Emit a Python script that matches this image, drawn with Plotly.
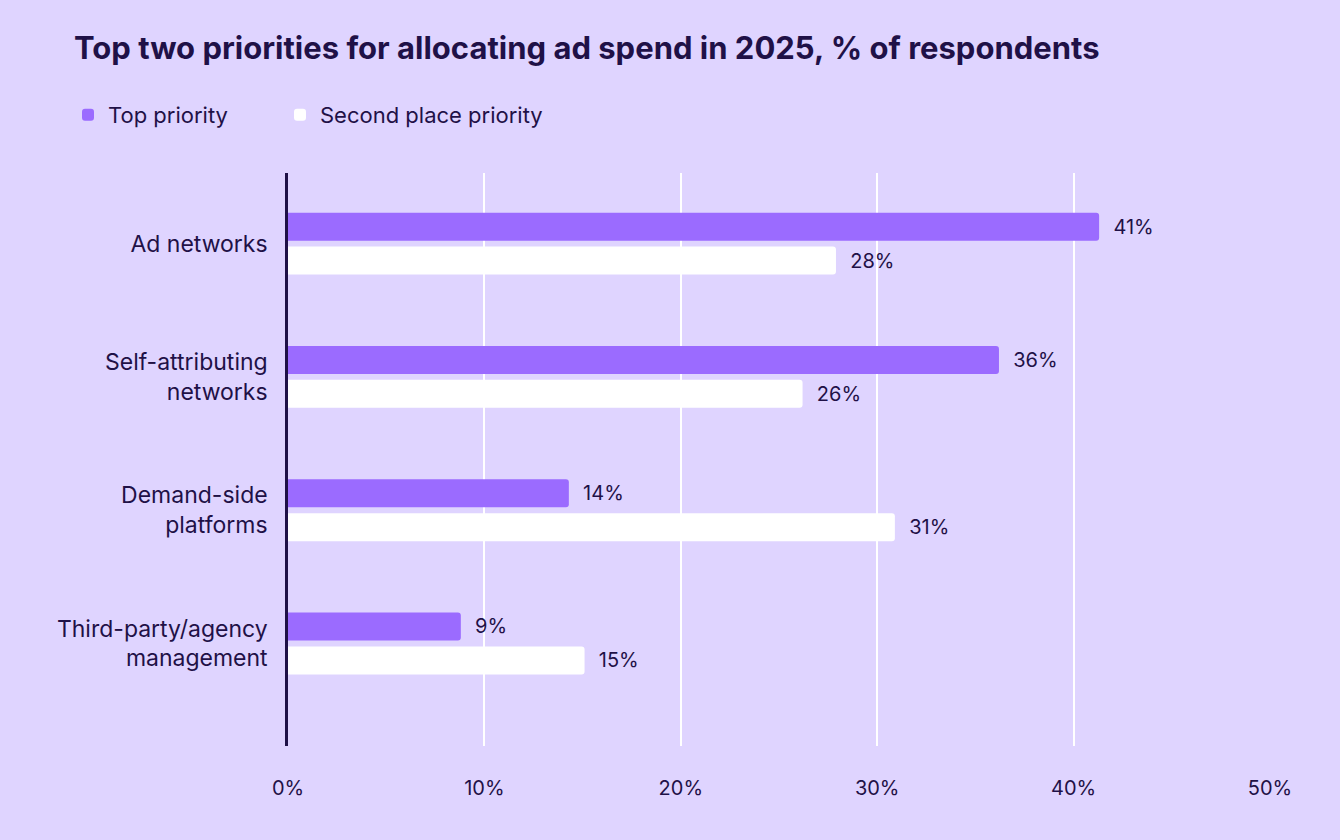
import plotly.graph_objects as go

categories = ["Ad networks", "Self-attributing<br>networks", "Demand-side<br>platforms", "Third-party/agency<br>management"]
top_priority = [41.3, 36.2, 14.3, 8.8]
second_priority = [27.9, 26.2, 30.9, 15.1]
series_names = ["Top priority", "Second place priority"]
x_ticks = [0, 10, 20, 30, 40, 50]
x_tick_labels = ["0%", "10%", "20%", "30%", "40%", "50%"]

BG = "#DFD4FF"
PURPLE = "#9B6BFF"
WHITE = "#FFFFFF"
INK = "#1F1147"
FONT = "Inter"

fig = go.Figure()
for vals, name, color, leg in [(top_priority, series_names[0], PURPLE, "legend"),
                               (second_priority, series_names[1], WHITE, "legend2")]:
    fig.add_trace(go.Bar(
        y=categories, x=vals, orientation="h", name=name, legend=leg,
        marker=dict(color=color, line=dict(width=0)),
        text=[f"\u00a0\u00a0{round(v)}%" for v in vals], textposition="outside",
        textfont=dict(color=INK, size=20, family=FONT), cliponaxis=False,
        hoverinfo="skip",
    ))

legend_common = dict(
    orientation="h", xref="container", yref="container",
    xanchor="left", y=1 - 115 / 840, yanchor="middle",
    font=dict(size=22, family=FONT, color=INK),
    bgcolor="rgba(0,0,0,0)",
)

fig.update_layout(
    width=1340, height=840,
    paper_bgcolor=BG, plot_bgcolor=BG,
    font=dict(family=FONT, color=INK, size=20),
    margin=dict(l=288, r=70, t=173, b=94),
    barmode="group", bargap=0.49, bargroupgap=0.176, barcornerradius=3,
    title=dict(
        text="Top two priorities for allocating ad spend in 2025, % of respondents",
        x=74 / 1340, xanchor="left", xref="container",
        y=1 - 48 / 840, yanchor="middle", yref="container",
        font=dict(size=31, family=FONT, weight=700, color=INK),
    ),
    legend=dict(x=68 / 1340, **legend_common),
    legend2=dict(x=280 / 1340, **legend_common),
    showlegend=True,
)
fig.update_xaxes(
    range=[0, 50], tickvals=x_ticks, ticktext=x_tick_labels,
    showgrid=True, gridcolor="#FFFFFF", gridwidth=1.5,
    zeroline=False, showline=False,
    ticks="outside", ticklen=0, ticklabelstandoff=24,
    tickfont=dict(size=20, color=INK, family=FONT),
)
fig.update_yaxes(
    type="category", range=[3.77, -0.53],
    showgrid=False, zeroline=False,
    showline=True, linecolor=INK, linewidth=2.5,
    ticks="outside", ticklen=0, ticklabelstandoff=13,
    tickfont=dict(size=23, color=INK, family=FONT),
)

fig.write_html("out.html")
